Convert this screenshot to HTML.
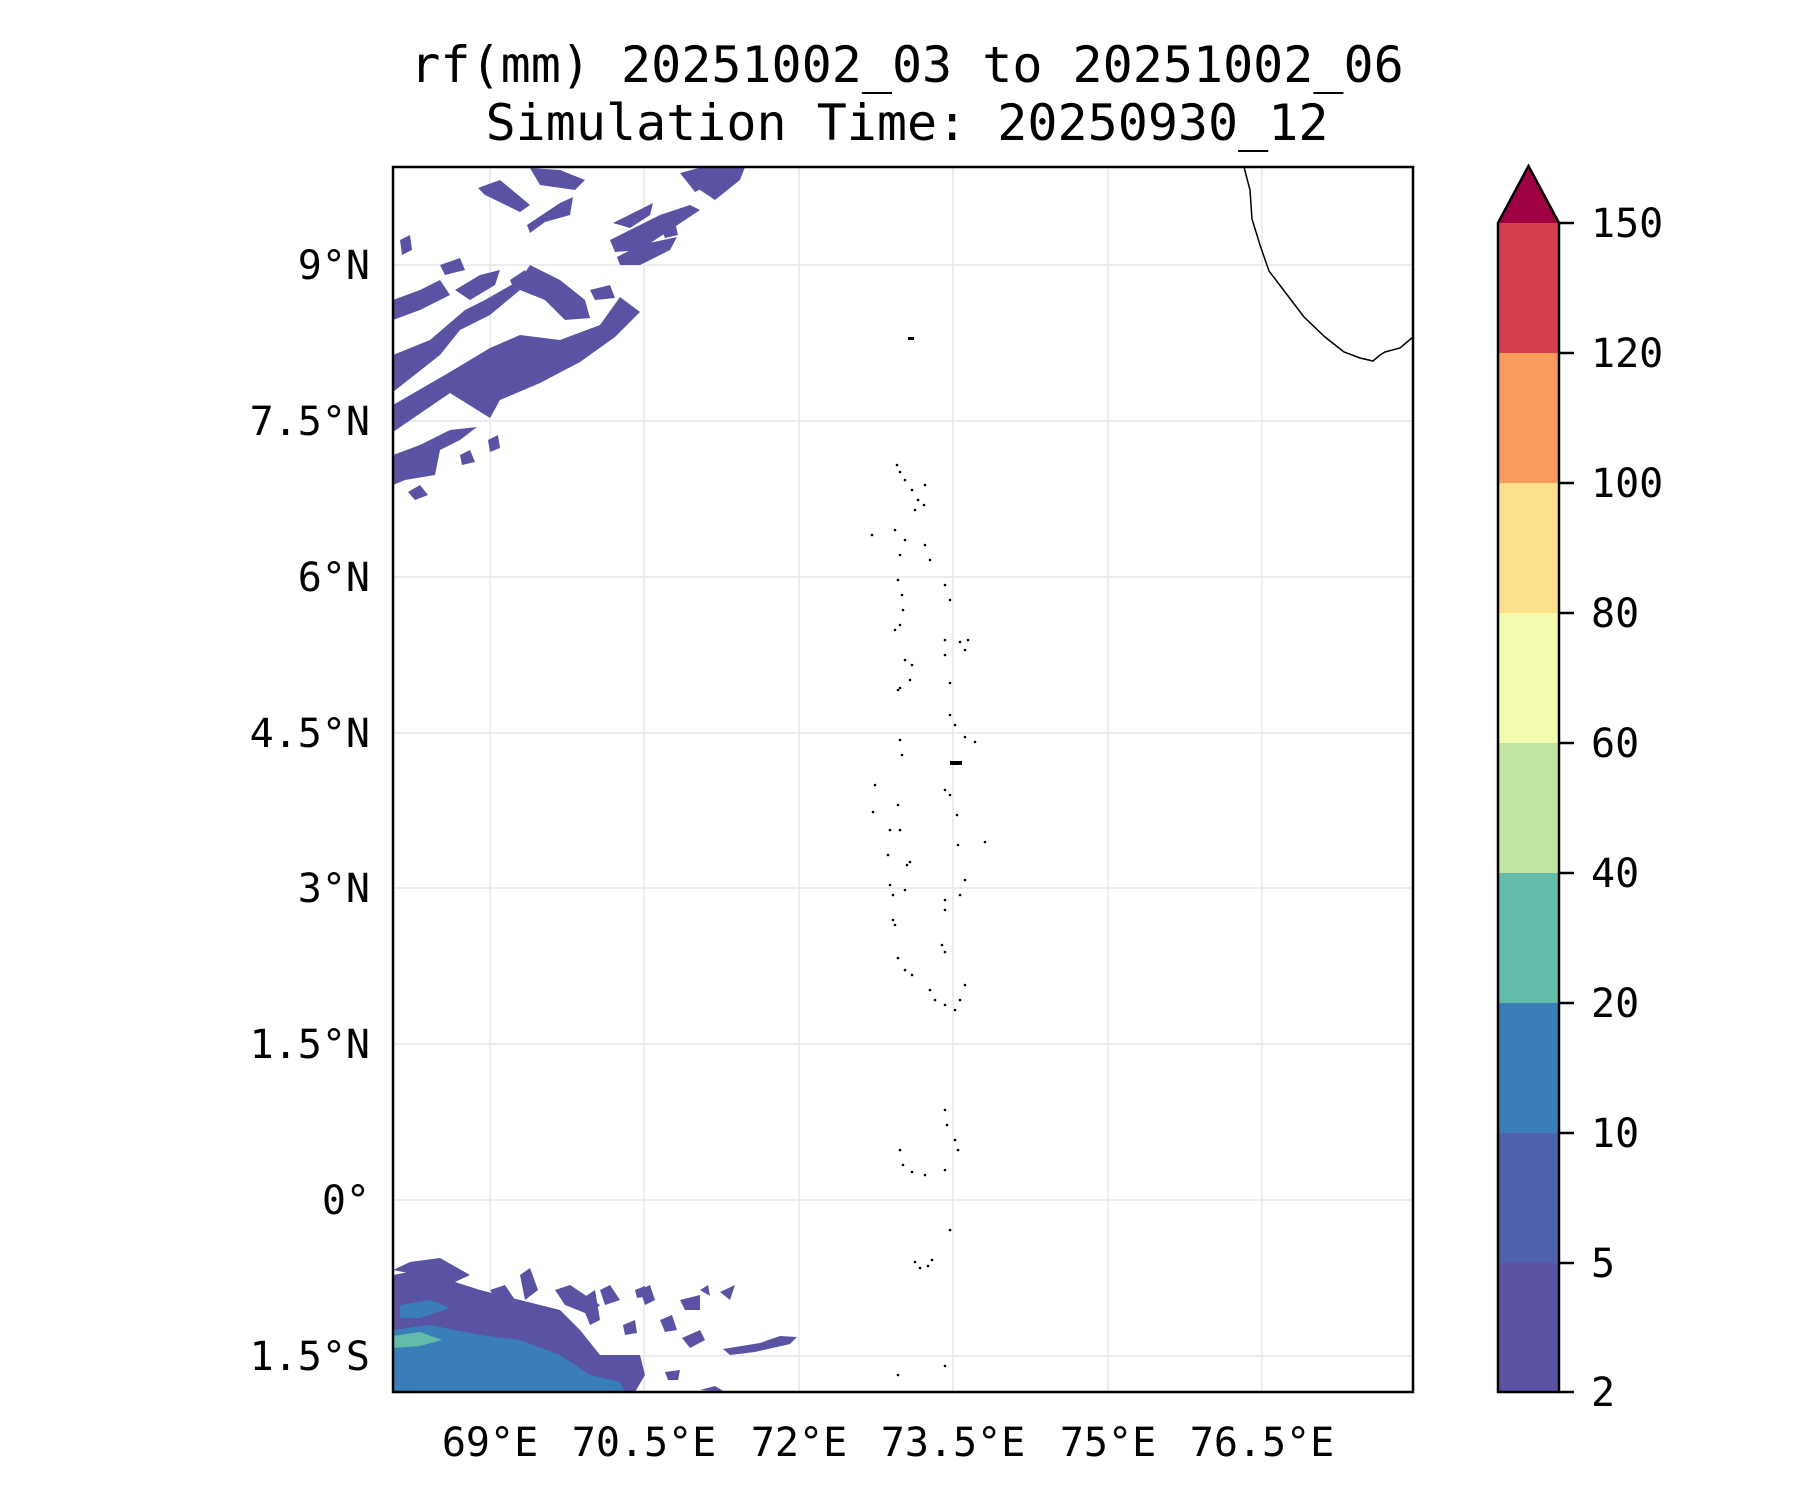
<!DOCTYPE html>
<html><head><meta charset="utf-8"><style>
html,body{margin:0;padding:0;background:#fff}
svg{display:block}
text{font-family:"DejaVu Sans Mono","Liberation Mono",monospace;fill:#000}
</style></head><body>
<svg width="1800" height="1500" viewBox="0 0 1800 1500" xmlns="http://www.w3.org/2000/svg">
<rect width="1800" height="1500" fill="#fff"/>
<text x="907" y="82" font-size="50" text-anchor="middle">rf(mm) 20251002_03 to 20251002_06</text>
<text x="907" y="140" font-size="50" text-anchor="middle">Simulation Time: 20250930_12</text>
<defs><clipPath id="ax"><rect x="393" y="167" width="1020" height="1225"/></clipPath></defs>
<g stroke="#e6e6e6" stroke-width="1.5">
<line x1="490" y1="167" x2="490" y2="1392"/><line x1="644" y1="167" x2="644" y2="1392"/><line x1="799" y1="167" x2="799" y2="1392"/><line x1="953" y1="167" x2="953" y2="1392"/><line x1="1108" y1="167" x2="1108" y2="1392"/><line x1="1262" y1="167" x2="1262" y2="1392"/>
<line x1="393" y1="265" x2="1413" y2="265"/><line x1="393" y1="421" x2="1413" y2="421"/><line x1="393" y1="577" x2="1413" y2="577"/><line x1="393" y1="733" x2="1413" y2="733"/><line x1="393" y1="888" x2="1413" y2="888"/><line x1="393" y1="1044" x2="1413" y2="1044"/><line x1="393" y1="1200" x2="1413" y2="1200"/><line x1="393" y1="1356" x2="1413" y2="1356"/>
</g>
<g clip-path="url(#ax)" fill="#5a52a3">
<polygon points="393,405 450,372 490,348 520,335 560,340 600,325 620,297 640,312 615,337 580,362 540,383 500,400 490,418 450,393 393,432"/>
<polygon points="393,355 430,340 465,310 485,300 520,280 530,265 560,280 585,300 590,318 565,320 545,300 520,290 490,315 460,330 440,355 393,392"/>
<polygon points="393,455 420,445 450,430 477,427 460,440 440,450 435,475 405,480 393,485"/>
<polygon points="527,225 560,203 573,197 570,215 545,222 530,233"/>
<polygon points="613,223 635,212 653,203 650,215 630,228"/>
<polygon points="617,257 640,245 677,237 670,250 640,265 620,265"/>
<polygon points="680,173 710,165 737,167 720,180 695,192"/>
<polygon points="478,188 500,180 530,205 520,212 485,195"/>
<polygon points="530,168 560,170 585,180 575,190 540,185"/>
<polygon points="455,290 480,275 500,270 495,285 470,300"/>
<polygon points="393,300 420,290 440,280 450,295 420,310 393,320"/>
<polygon points="400,240 410,235 412,250 402,255"/>
<polygon points="440,265 460,258 465,270 445,275"/>
<polygon points="610,240 640,225 660,215 690,205 700,210 670,230 640,250 615,252"/>
<polygon points="700,190 720,170 745,167 740,180 715,200"/>
<polygon points="510,280 525,270 530,285 515,292"/>
<polygon points="590,290 610,285 615,298 595,300"/>
<polygon points="408,492 420,485 428,495 415,500"/>
<polygon points="460,455 470,450 475,462 462,465"/>
<polygon points="488,440 498,435 500,448 490,452"/>
<polygon points="660,225 675,222 678,235 665,238"/>
<polygon points="393,1275 430,1268 455,1282 480,1290 520,1300 560,1310 580,1330 600,1355 640,1355 645,1375 635,1392 393,1392"/>
<polygon points="393,1270 410,1262 440,1258 470,1275 455,1282"/>
<polygon points="490,1290 505,1285 515,1300 500,1305"/>
<polygon points="520,1275 530,1268 538,1290 525,1300"/>
<polygon points="555,1290 570,1285 600,1305 590,1315 565,1305"/>
<polygon points="580,1300 595,1290 600,1320 590,1325"/>
<polygon points="600,1290 610,1285 620,1300 605,1305"/>
<polygon points="640,1290 650,1285 655,1300 645,1305"/>
<polygon points="660,1320 672,1315 677,1330 665,1332"/>
<polygon points="623,1325 635,1320 637,1333 625,1335"/>
<polygon points="680,1300 700,1295 700,1310 685,1310"/>
<polygon points="723,1349 760,1343 780,1336 797,1337 790,1344 755,1352 730,1355"/>
<polygon points="682,1338 700,1330 705,1340 690,1348"/>
<polygon points="665,1372 680,1370 678,1380 668,1380"/>
<polygon points="635,1290 645,1286 648,1296 637,1298"/>
<polygon points="700,1290 708,1285 710,1296"/>
<polygon points="720,1292 735,1285 730,1300"/>
<polygon points="700,1390 715,1386 725,1392"/>
<polygon fill="#3a7eb8" points="393,1330 430,1325 480,1335 520,1340 560,1355 590,1375 620,1382 625,1392 393,1392"/>
<polygon fill="#3a7eb8" points="400,1305 430,1300 450,1308 420,1318 400,1318"/>
<polygon fill="#63bca9" points="393,1336 420,1332 442,1340 420,1346 393,1348"/>
</g>
<path d="M1244,167 L1250,190 1252,219 1260,245 1269,271 1285,292 1304,317 1325,337 1344,352 1360,358 1373,361 1380,355 1385,352 1400,348 1413,337" fill="none" stroke="#000" stroke-width="1.5" clip-path="url(#ax)"/>
<g fill="#000">
<rect x="908" y="337" width="6" height="3"/>
<circle cx="897" cy="465" r="1.3"/><circle cx="900" cy="472" r="1.3"/><circle cx="905" cy="480" r="1.3"/><circle cx="912" cy="490" r="1.3"/><circle cx="918" cy="500" r="1.3"/><circle cx="925" cy="485" r="1.3"/><circle cx="924" cy="505" r="1.3"/><circle cx="915" cy="510" r="1.3"/>
<circle cx="872" cy="535" r="1.3"/><circle cx="895" cy="530" r="1.3"/><circle cx="905" cy="540" r="1.3"/><circle cx="925" cy="545" r="1.3"/><circle cx="930" cy="560" r="1.3"/><circle cx="900" cy="555" r="1.3"/>
<circle cx="898" cy="580" r="1.3"/><circle cx="902" cy="595" r="1.3"/><circle cx="903" cy="610" r="1.3"/><circle cx="900" cy="625" r="1.3"/><circle cx="895" cy="630" r="1.3"/><circle cx="945" cy="585" r="1.3"/><circle cx="950" cy="600" r="1.3"/><circle cx="945" cy="640" r="1.3"/><circle cx="960" cy="642" r="1.3"/><circle cx="968" cy="640" r="1.3"/><circle cx="965" cy="650" r="1.3"/><circle cx="945" cy="655" r="1.3"/>
<circle cx="905" cy="660" r="1.3"/><circle cx="912" cy="665" r="1.3"/><circle cx="910" cy="680" r="1.3"/><circle cx="900" cy="688" r="1.3"/><circle cx="898" cy="690" r="1.3"/><circle cx="950" cy="683" r="1.3"/>
<circle cx="950" cy="715" r="1.3"/><circle cx="955" cy="725" r="1.3"/><circle cx="965" cy="737" r="1.3"/><circle cx="975" cy="742" r="1.3"/><circle cx="900" cy="740" r="1.3"/><circle cx="902" cy="755" r="1.3"/>
<rect x="950" y="761" width="12" height="4"/>
<circle cx="875" cy="785" r="1.3"/><circle cx="873" cy="812" r="1.3"/><circle cx="898" cy="805" r="1.3"/><circle cx="900" cy="830" r="1.3"/><circle cx="890" cy="830" r="1.3"/><circle cx="945" cy="790" r="1.3"/><circle cx="950" cy="795" r="1.3"/><circle cx="957" cy="815" r="1.3"/><circle cx="985" cy="842" r="1.3"/><circle cx="958" cy="845" r="1.3"/>
<circle cx="888" cy="855" r="1.3"/><circle cx="907" cy="865" r="1.3"/><circle cx="910" cy="862" r="1.3"/><circle cx="890" cy="885" r="1.3"/><circle cx="893" cy="895" r="1.3"/><circle cx="905" cy="890" r="1.3"/><circle cx="965" cy="880" r="1.3"/><circle cx="960" cy="895" r="1.3"/><circle cx="945" cy="900" r="1.3"/><circle cx="945" cy="910" r="1.3"/>
<circle cx="893" cy="920" r="1.3"/><circle cx="895" cy="925" r="1.3"/><circle cx="942" cy="945" r="1.3"/><circle cx="945" cy="952" r="1.3"/><circle cx="898" cy="958" r="1.3"/><circle cx="905" cy="970" r="1.3"/><circle cx="912" cy="975" r="1.3"/>
<circle cx="930" cy="990" r="1.3"/><circle cx="935" cy="1000" r="1.3"/><circle cx="945" cy="1005" r="1.3"/><circle cx="955" cy="1010" r="1.3"/><circle cx="960" cy="1000" r="1.3"/><circle cx="965" cy="985" r="1.3"/>
<circle cx="945" cy="1110" r="1.3"/><circle cx="947" cy="1125" r="1.3"/><circle cx="955" cy="1140" r="1.3"/><circle cx="958" cy="1150" r="1.3"/><circle cx="900" cy="1150" r="1.3"/><circle cx="903" cy="1165" r="1.3"/><circle cx="912" cy="1172" r="1.3"/><circle cx="925" cy="1175" r="1.3"/><circle cx="945" cy="1170" r="1.3"/>
<circle cx="950" cy="1230" r="1.3"/><circle cx="915" cy="1262" r="1.3"/><circle cx="920" cy="1268" r="1.3"/><circle cx="928" cy="1266" r="1.3"/><circle cx="932" cy="1260" r="1.3"/><circle cx="898" cy="1375" r="1.3"/><circle cx="945" cy="1366" r="1.3"/>
</g>
<rect x="393" y="167" width="1020" height="1225" fill="none" stroke="#000" stroke-width="2.5"/>
<g font-size="40" text-anchor="end">
<text x="370" y="279">9°N</text><text x="370" y="435">7.5°N</text><text x="370" y="591">6°N</text><text x="370" y="747">4.5°N</text><text x="370" y="902">3°N</text><text x="370" y="1058">1.5°N</text><text x="370" y="1214">0°</text><text x="370" y="1370">1.5°S</text>
</g>
<g font-size="40" text-anchor="middle">
<text x="490" y="1456">69°E</text><text x="644" y="1456">70.5°E</text><text x="799" y="1456">72°E</text><text x="953" y="1456">73.5°E</text><text x="1108" y="1456">75°E</text><text x="1262" y="1456">76.5°E</text>
</g>
<rect x="1498" y="223" width="61" height="130" fill="#d53e4f"/>
<rect x="1498" y="353" width="61" height="130" fill="#f99b5a"/>
<rect x="1498" y="483" width="61" height="130" fill="#fde08b"/>
<rect x="1498" y="613" width="61" height="130" fill="#f4faae"/>
<rect x="1498" y="743" width="61" height="130" fill="#bfe5a0"/>
<rect x="1498" y="873" width="61" height="130" fill="#63bca9"/>
<rect x="1498" y="1003" width="61" height="130" fill="#3a7eb8"/>
<rect x="1498" y="1133" width="61" height="130" fill="#4f62ab"/>
<rect x="1498" y="1263" width="61" height="129" fill="#5b53a3"/>
<polygon points="1498,223 1528.5,166 1559,223" fill="#9e0142"/>
<path d="M1498,1392 L1498,223 1528.5,166 1559,223 1559,1392 Z" fill="none" stroke="#000" stroke-width="2.5"/>
<g stroke="#000" stroke-width="2.5">
<line x1="1559" y1="223" x2="1574" y2="223"/><line x1="1559" y1="353" x2="1574" y2="353"/><line x1="1559" y1="483" x2="1574" y2="483"/><line x1="1559" y1="613" x2="1574" y2="613"/><line x1="1559" y1="743" x2="1574" y2="743"/><line x1="1559" y1="873" x2="1574" y2="873"/><line x1="1559" y1="1003" x2="1574" y2="1003"/><line x1="1559" y1="1133" x2="1574" y2="1133"/><line x1="1559" y1="1263" x2="1574" y2="1263"/><line x1="1559" y1="1392" x2="1574" y2="1392"/>
</g>
<g font-size="40">
<text x="1591" y="237">150</text><text x="1591" y="367">120</text><text x="1591" y="497">100</text><text x="1591" y="627">80</text><text x="1591" y="757">60</text><text x="1591" y="887">40</text><text x="1591" y="1017">20</text><text x="1591" y="1147">10</text><text x="1591" y="1277">5</text><text x="1591" y="1406">2</text>
</g>
</svg>
</body></html>
